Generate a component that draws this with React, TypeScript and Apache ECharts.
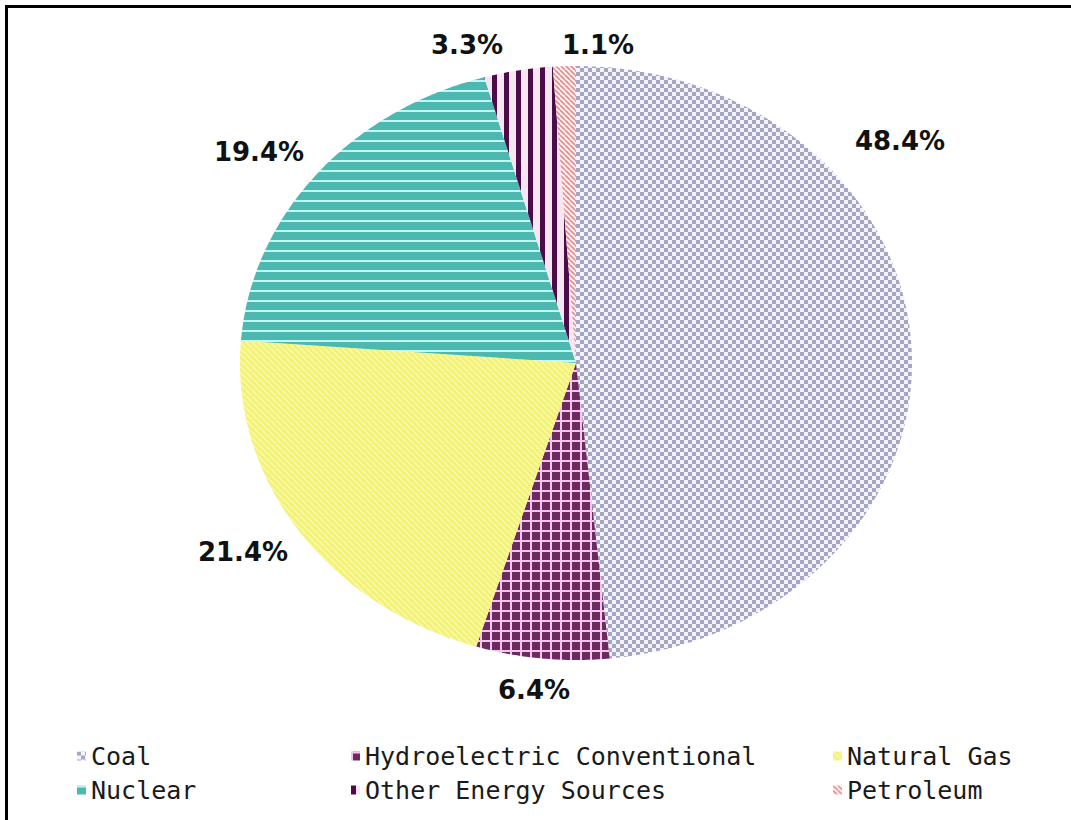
import React, { useEffect, useRef } from "react";
import * as echarts from "echarts";

// Net generation shares by energy source (percent)
const CATEGORIES = [
  "Coal",
  "Hydroelectric Conventional",
  "Natural Gas",
  "Nuclear",
  "Other Energy Sources",
  "Petroleum",
];
const SHARES = [48.4, 6.4, 21.4, 19.4, 3.3, 1.1];

// Legend columns (two entries per column)
const LEGEND_COLUMNS = [
  ["Coal", "Nuclear"],
  ["Hydroelectric Conventional", "Other Energy Sources"],
  ["Natural Gas", "Petroleum"],
];

// Label anchor points, in the same order as the slices
const LABEL_POS: [number, number][] = [
  [900, 141],
  [534, 690],
  [243, 552],
  [259, 152],
  [467, 45],
  [598, 45],
];

// Ellipse geometry of the pie
const PIE = { cx: 576, cy: 363, rx: 336, ry: 297 };

type Drawer = (ctx: CanvasRenderingContext2D, w: number, h: number) => void;

function makePattern(w: number, h: number, draw: Drawer) {
  const c = document.createElement("canvas");
  c.width = w;
  c.height = h;
  const ctx = c.getContext("2d")!;
  draw(ctx, w, h);
  return { image: c, repeat: "repeat", imageWidth: w, imageHeight: h } as any;
}

function diagonal(base: string, stripe: string, size: number, lw: number): Drawer {
  return (ctx, w, h) => {
    ctx.fillStyle = base;
    ctx.fillRect(0, 0, w, h);
    ctx.strokeStyle = stripe;
    ctx.lineWidth = lw;
    for (let k = -1; k <= 1; k++) {
      ctx.beginPath();
      ctx.moveTo(k * size, 0);
      ctx.lineTo(k * size + size, size);
      ctx.stroke();
    }
  };
}

function buildPatterns() {
  return [
    // Coal: lavender checkerboard
    makePattern(8, 8, (ctx) => {
      ctx.fillStyle = "#f3f3fc";
      ctx.fillRect(0, 0, 8, 8);
      ctx.fillStyle = "#a6a6c4";
      ctx.fillRect(0, 0, 4, 4);
      ctx.fillRect(4, 4, 4, 4);
    }),
    // Hydroelectric: dark plum squares on a pink grid
    makePattern(10, 10, (ctx) => {
      ctx.fillStyle = "#f2c6ee";
      ctx.fillRect(0, 0, 10, 10);
      ctx.fillStyle = "#6c2a5e";
      ctx.fillRect(2, 2, 8, 8);
    }),
    // Natural gas: yellow with faint diagonal stripes
    makePattern(6, 6, diagonal("#f1f174", "#f8f8a6", 6, 2)),
    // Nuclear: teal with light horizontal lines
    makePattern(10, 10, (ctx) => {
      ctx.fillStyle = "#4cb8b0";
      ctx.fillRect(0, 0, 10, 10);
      ctx.fillStyle = "#bff8f2";
      ctx.fillRect(0, 0, 10, 2);
    }),
    // Other sources: dark purple vertical bars
    makePattern(12, 12, (ctx) => {
      ctx.fillStyle = "#f6e6f2";
      ctx.fillRect(0, 0, 12, 12);
      ctx.fillStyle = "#4c0c48";
      ctx.fillRect(0, 0, 5, 12);
    }),
    // Petroleum: pink diagonal stripes
    makePattern(5, 5, diagonal("#fff2f2", "#e48c8c", 5, 1.6)),
  ];
}

export default function App() {
  const ref = useRef<HTMLDivElement>(null);

  useEffect(() => {
    if (!ref.current) return;
    const chart = echarts.init(ref.current, null, { renderer: "svg" });
    const patterns = buildPatterns();
    const total = SHARES.reduce((a, b) => a + b, 0);

    const series = CATEGORIES.map((name, i) => ({
      type: "custom",
      name,
      coordinateSystem: "none",
      data: [SHARES[i]],
      itemStyle: { color: patterns[i] },
      silent: true,
      renderItem: (_params: any, api: any) => {
        const before = SHARES.slice(0, i).reduce((a, b) => a + b, 0);
        const value = api.value(0) as number;
        const a0 = (before / total) * Math.PI * 2;
        const a1 = ((before + value) / total) * Math.PI * 2;
        const steps = Math.max(4, Math.ceil(((a1 - a0) * 180) / Math.PI * 2));
        const pts: number[][] = [[PIE.cx, PIE.cy]];
        for (let s = 0; s <= steps; s++) {
          const a = a0 + ((a1 - a0) * s) / steps;
          pts.push([PIE.cx + PIE.rx * Math.sin(a), PIE.cy - PIE.ry * Math.cos(a)]);
        }
        const [lx, ly] = LABEL_POS[i];
        return {
          type: "group",
          children: [
            {
              type: "polygon",
              shape: { points: pts },
              style: { fill: patterns[i], stroke: null },
            },
            {
              type: "text",
              x: lx,
              y: ly,
              style: {
                text: value.toFixed(1) + "%",
                fill: "#111",
                fontFamily: "DejaVu Sans",
                fontWeight: "bold",
                fontSize: 26,
                align: "center",
                verticalAlign: "middle",
              },
            },
          ],
        };
      },
    }));

    const legendLefts = [72, 346, 828];

    chart.setOption({
      animation: false,
      backgroundColor: "#ffffff",
      legend: LEGEND_COLUMNS.map((col, k) => ({
        data: col,
        orient: "vertical",
        left: legendLefts[k],
        top: 738,
        itemWidth: 9,
        itemHeight: 9,
        itemGap: 8,
        icon: "rect",
        selectedMode: false,
        textStyle: {
          fontFamily: "DejaVu Sans Mono",
          fontSize: 25,
          lineHeight: 26,
          color: "#1a1a1a",
        },
      })),
      graphic: [
        {
          type: "rect",
          shape: { x: 6.5, y: 6.5, width: 1200, height: 1000 },
          style: { fill: "none", stroke: "#000", lineWidth: 3 },
          silent: true,
        },
      ],
      series,
    });

    return () => chart.dispose();
  }, []);

  return (
    <div
      ref={ref}
      style={{ position: "absolute", left: 0, top: 0, width: 1071, height: 820 }}
    />
  );
}
